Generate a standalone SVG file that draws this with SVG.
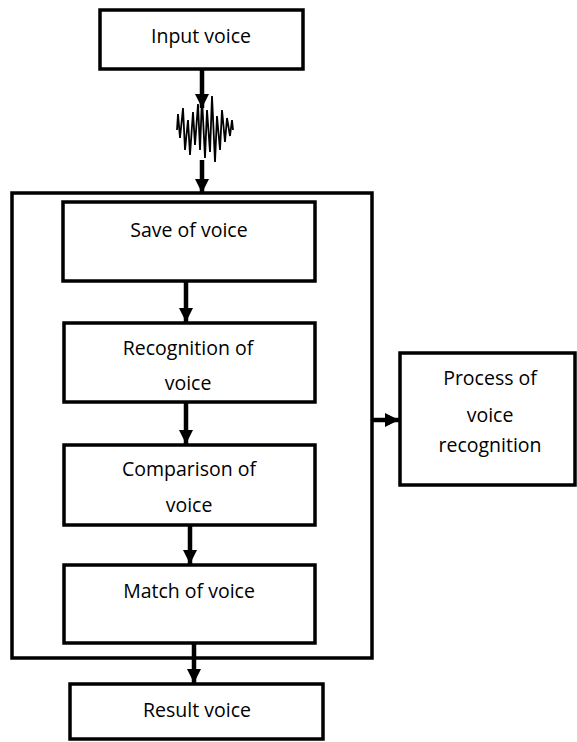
<svg xmlns="http://www.w3.org/2000/svg" width="577" height="742" viewBox="0 0 577 742">
<style>
.box{fill:#fff;stroke:#000;stroke-width:3.5}
.frame{fill:none;stroke:#000;stroke-width:3.5}
.t{font-family:"Open Sans","Noto Sans",sans-serif;font-size:19.5px;fill:#000;text-anchor:middle}
.c{stroke:#000;stroke-width:4.5;fill:none}
.w{stroke:#000;stroke-width:1.8;fill:none;stroke-linejoin:miter}
</style>
<defs>
<marker id="ah" viewBox="0 0 10 10" refX="10" refY="5" markerWidth="3.2" markerHeight="3.6" orient="auto" markerUnits="strokeWidth">
<path d="M0,0 L10,5 L0,10 Z" fill="#000"/>
</marker>
</defs>
<g id="outer">
<rect class="frame" x="12" y="193" width="360" height="465"/>
</g>
<g id="input">
<rect class="box" x="100" y="10" width="203" height="59"/>
<text class="t" x="201" y="43">Input voice</text>
</g>
<g id="save">
<rect class="box" x="63" y="202" width="252" height="79"/>
<text class="t" x="189" y="237">Save of voice</text>
</g>
<g id="recognition">
<rect class="box" x="64" y="323" width="251" height="79"/>
<text class="t" x="188" y="355">Recognition of</text>
<text class="t" x="188" y="390">voice</text>
</g>
<g id="comparison">
<rect class="box" x="64" y="445" width="251" height="80"/>
<text class="t" x="189" y="476">Comparison of</text>
<text class="t" x="189" y="512">voice</text>
</g>
<g id="match">
<rect class="box" x="64" y="565" width="251" height="78"/>
<text class="t" x="189" y="598">Match of voice</text>
</g>
<g id="result">
<rect class="box" x="70" y="684" width="253" height="55"/>
<text class="t" x="197" y="717">Result voice</text>
</g>
<g id="process">
<rect class="box" x="400" y="353" width="175" height="132"/>
<text class="t" x="490" y="385">Process of</text>
<text class="t" x="490" y="422">voice</text>
<text class="t" x="490" y="452">recognition</text>
</g>
<g id="waveform">
<path class="w" d="M177,130 L178,114 L180,138 L183,108 L185,150 L188,120 L190,155 L193,112 L195,145 L198,104 L200,150 L202,98 L205,158 L207,110 L210,152 L212,96 L215,162 L217,116 L220,150 L222,110 L225,142 L227,118 L230,136 L232,120 L233,130"/>
</g>
<g id="connectors">
<line class="c" x1="202" y1="69" x2="202" y2="108" marker-end="url(#ah)"/>
<line class="c" x1="202" y1="160" x2="202" y2="193" marker-end="url(#ah)"/>
<line class="c" x1="186" y1="282" x2="186" y2="322" marker-end="url(#ah)"/>
<line class="c" x1="186" y1="403" x2="186" y2="444" marker-end="url(#ah)"/>
<line class="c" x1="190" y1="526" x2="190" y2="564" marker-end="url(#ah)"/>
<line class="c" x1="194" y1="644" x2="194" y2="683" marker-end="url(#ah)"/>
<line class="c" x1="373" y1="420" x2="399" y2="420" marker-end="url(#ah)"/>
</g>
</svg>
